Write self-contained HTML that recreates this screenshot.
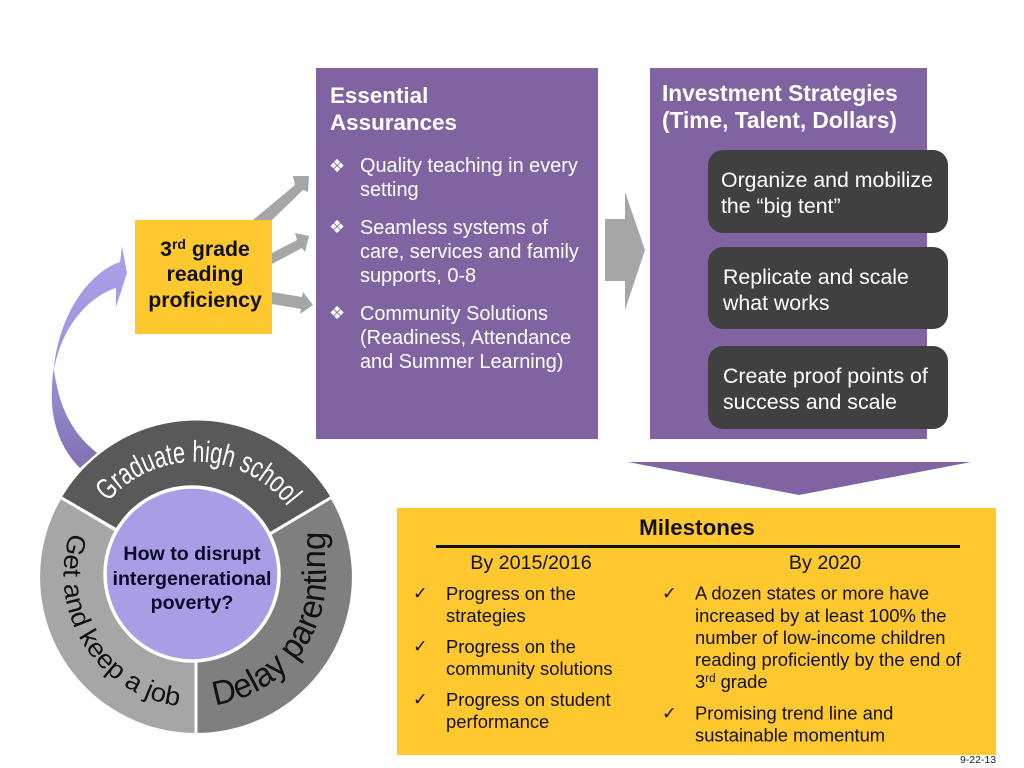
<!DOCTYPE html>
<html><head><meta charset="utf-8"><style>
html,body{margin:0;padding:0;background:#fff}
svg{display:block;font-family:"Liberation Sans",sans-serif}
.sym{font-family:"DejaVu Sans",sans-serif}
</style></head><body>
<svg width="1024" height="768" viewBox="0 0 1024 768" xmlns="http://www.w3.org/2000/svg">
<defs>
<linearGradient id="ga" x1="0" y1="0" x2="0" y2="1"><stop offset="0" stop-color="#aca0ea"/><stop offset="0.5" stop-color="#a095dc"/><stop offset="1" stop-color="#7f70b0"/></linearGradient>
<path id="pg" d="M108 502 A116 116 0 0 1 310 557"/>
<path id="pj" d="M70 533 A133 133 0 0 0 262 690"/>
<path id="pd" d="M215 705 A129 129 0 0 0 325 560 L326 500"/>
</defs>
<rect x="316" y="68" width="282" height="371" fill="#8064a2"/>
<rect x="650" y="68" width="277" height="371" fill="#8064a2"/>
<g fill="#a6a6a6">
<polygon points="253,220 295,185 293,176 309,176 308,192 303,190 272,220"/>
<polygon points="272,253 297,240 295,233 309,236 305,252 302,248 272,264"/>
<polygon points="272,292 302,297 303,292 313,305 300,314 301,309 272,304"/>
<polygon points="605,219 625,219 625,192 645,250 625,310 625,281 605,281"/>
</g>
<polygon points="628,462 971,462 799,495" fill="#8064a2"/>
<rect x="135" y="220" width="137" height="114" fill="#ffc82e"/>
<path d="M122 246 L127 273 L116 307 L116 288 C90 296 62 325 54 370 C60 413 75 435 97 453 L80 468 C60 448 50 420 52 387 C52 380 53 373 54 367 C60 312 90 272 120 262 Z" fill="url(#ga)"/>
<rect x="708" y="150" width="240" height="83" rx="15" fill="#404040"/>
<rect x="708" y="247" width="240" height="82" rx="15" fill="#404040"/>
<rect x="708" y="346" width="240" height="83" rx="15" fill="#404040"/>
<rect x="397" y="508" width="599" height="247" fill="#ffc82e"/>
<rect x="436" y="545" width="524" height="3" fill="#111"/>

<!-- ring -->
<circle cx="196" cy="577" r="158" fill="#fff"/>
<path d="M62 497 A156 156 0 0 1 331 498 L192 580 Z" fill="#595959"/>
<path d="M61 499 A156 156 0 0 0 196 733 L196 580 Z" fill="#a6a6a6"/>
<path d="M331 499 A156 156 0 0 1 196 733 L196 580 Z" fill="#7f7f7f"/>
<path d="M60 497 L192 574 M332 497 L192 580 M196 580 L196 736" stroke="#fff" stroke-width="3" fill="none"/>
<circle cx="192" cy="574" r="87" fill="#a99de6" stroke="#fff" stroke-width="3.5"/>
<text font-size="30" fill="#fff"><textPath href="#pg" textLength="205" lengthAdjust="spacingAndGlyphs">Graduate high school</textPath></text>
<text font-size="26" fill="#111"><textPath href="#pj" textLength="233" lengthAdjust="spacingAndGlyphs">Get and keep a job</textPath></text>
<text font-size="34" fill="#111"><textPath href="#pd" textLength="230" lengthAdjust="spacingAndGlyphs">Delay parenting</textPath></text>

<g font-size="19.6" text-anchor="middle" fill="#0a0a2a" font-weight="bold">
<text x="192" y="560">How to disrupt</text>
<text x="192" y="585">intergenerational</text>
<text x="192" y="609">poverty?</text>
</g>
<g font-size="21.3" font-weight="bold" text-anchor="middle" fill="#111">
<text x="205" y="256">3<tspan font-size="14" dy="-7">rd</tspan><tspan dy="7"> grade</tspan></text>
<text x="205" y="281">reading</text>
<text x="205" y="307">proficiency</text>
</g>
<g fill="#fff" font-weight="bold">
<text x="330" y="103" font-size="22.4">Essential</text>
<text x="330" y="130" font-size="22.4">Assurances</text>
<text x="662" y="101" font-size="22.7">Investment Strategies</text>
<text x="662" y="128" font-size="22.7">(Time, Talent, Dollars)</text>
</g>
<g fill="#fff" font-size="19.9">
<text x="360" y="172">Quality teaching in every</text>
<text x="360" y="196">setting</text>
<text x="360" y="234">Seamless systems of</text>
<text x="360" y="258">care, services and family</text>
<text x="360" y="282">supports, 0-8</text>
<text x="360" y="320">Community Solutions</text>
<text x="360" y="344">(Readiness, Attendance</text>
<text x="360" y="368">and Summer Learning)</text>
</g>
<g fill="#fff" font-size="18" class="sym">
<text x="329" y="172">❖</text>
<text x="329" y="233">❖</text>
<text x="329" y="319">❖</text>
</g>
<g fill="#fff" font-size="21.3">
<text x="721" y="187">Organize and mobilize</text>
<text x="721" y="213">the “big tent”</text>
<text x="723" y="284">Replicate and scale</text>
<text x="723" y="310">what works</text>
<text x="723" y="383">Create proof points of</text>
<text x="723" y="409">success and scale</text>
</g>
<text x="697" y="535" font-size="22.4" font-weight="bold" text-anchor="middle" fill="#111">Milestones</text>
<g font-size="19.7" text-anchor="middle" fill="#111">
<text x="531" y="569">By 2015/2016</text>
<text x="825" y="569">By 2020</text>
</g>
<g font-size="18.4" fill="#111">
<text x="446" y="600">Progress on the</text>
<text x="446" y="622">strategies</text>
<text x="446" y="653">Progress on the</text>
<text x="446" y="675">community solutions</text>
<text x="446" y="706">Progress on student</text>
<text x="446" y="728">performance</text>
<text x="695" y="599.5">A dozen states or more have</text>
<text x="695" y="622">increased by at least 100% the</text>
<text x="695" y="644">number of low-income children</text>
<text x="695" y="666">reading proficiently by the end of</text>
<text x="695" y="688">3<tspan font-size="11.5" dy="-6">rd</tspan><tspan dy="6"> grade</tspan></text>
<text x="695" y="719.5">Promising trend line and</text>
<text x="695" y="741.5">sustainable momentum</text>
</g>
<g font-size="17.5" fill="#111" class="sym">
<text x="413" y="599">✓</text>
<text x="413" y="652">✓</text>
<text x="413" y="705">✓</text>
<text x="662" y="599">✓</text>
<text x="662" y="719">✓</text>
</g>
<text x="960" y="763" font-size="10" textLength="36" lengthAdjust="spacingAndGlyphs" fill="#222">9-22-13</text>
</svg>
</body></html>
